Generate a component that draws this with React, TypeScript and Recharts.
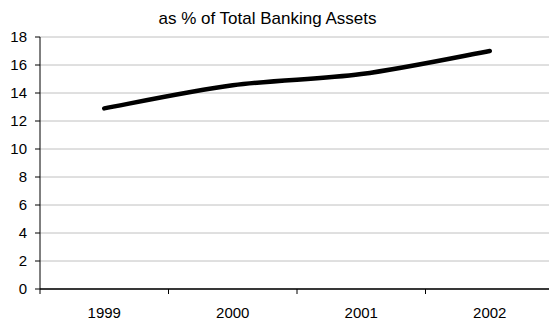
import React from 'react';
import { LineChart, Line, XAxis, YAxis, CartesianGrid } from 'recharts';

const categories = ['1999', '2000', '2001', '2002'];
const shareValues = [12.9, 14.55, 15.35, 17.0];
const yTicks = [0, 2, 4, 6, 8, 10, 12, 14, 16, 18];
const boundaryTicks = [0, 1, 2, 3, 4];
const titleText = 'as % of Total Banking Assets';

// pos: category centre on a 0..N slot scale (used only for the boundary tick marks axis)
const data = categories.map((year, i) => ({ year, value: shareValues[i], pos: i + 0.5 }));

const FONT = '"Liberation Sans", Arial, sans-serif';

// Catmull-Rom style smoothing (like a spreadsheet "smoothed line")
const smoothCurve: any = (context: any) => {
  let pts: number[][] = [];
  return {
    areaStart() {},
    areaEnd() {},
    lineStart() {
      pts = [];
    },
    point(x: number, y: number) {
      pts.push([+x, +y]);
    },
    lineEnd() {
      if (!pts.length) return;
      context.moveTo(pts[0][0], pts[0][1]);
      for (let i = 0; i < pts.length - 1; i++) {
        const p0 = pts[i - 1] || pts[i];
        const p1 = pts[i];
        const p2 = pts[i + 1];
        const p3 = pts[i + 2] || p2;
        context.bezierCurveTo(
          p1[0] + (p2[0] - p0[0]) / 6,
          p1[1] + (p2[1] - p0[1]) / 6,
          p2[0] - (p3[0] - p1[0]) / 6,
          p2[1] - (p3[1] - p1[1]) / 6,
          p2[0],
          p2[1]
        );
      }
    },
  };
};

export default function App() {
  return (
    <div style={{ position: 'absolute', left: 0, top: 0, width: 549, height: 325, overflow: 'hidden', background: '#fff' }}>
      <div
        style={{
          position: 'absolute',
          left: 0,
          top: 10,
          width: 535,
          textAlign: 'center',
          fontFamily: FONT,
          fontSize: 17,
          lineHeight: '17px',
          color: '#000',
        }}
      >
        {titleText}
      </div>
      <LineChart width={560} height={325} data={data} margin={{ top: 37, right: 6, bottom: 0, left: 0 }}>
        <CartesianGrid horizontal vertical={false} stroke="#c0c0c0" strokeWidth={1} />
        <XAxis
          xAxisId="bounds"
          dataKey="pos"
          type="number"
          domain={[0, 4]}
          ticks={boundaryTicks}
          tickFormatter={() => ''}
          height={1}
          axisLine={{ stroke: '#000', strokeWidth: 1.5 }}
          tickLine={{ stroke: '#000' }}
          tickSize={5}
          interval={0}
          allowDataOverflow
        />
        <XAxis
          xAxisId="cat"
          dataKey="year"
          type="category"
          scale="band"
          height={35}
          axisLine={false}
          tickLine={false}
          tickSize={0}
          tickMargin={17}
          tick={{ fill: '#000', fontSize: 15, fontFamily: FONT }}
          interval={0}
        />
        <YAxis
          domain={[0, 18]}
          ticks={yTicks}
          width={40}
          interval={0}
          axisLine={{ stroke: '#000' }}
          tickLine={{ stroke: '#000' }}
          tickSize={5}
          tickMargin={8}
          tick={{ fill: '#000', fontSize: 15, fontFamily: FONT }}
        />
        <Line
          xAxisId="cat"
          type={smoothCurve}
          dataKey="value"
          stroke="#000"
          strokeWidth={4.5}
          strokeLinecap="round"
          dot={false}
          isAnimationActive={false}
        />
      </LineChart>
    </div>
  );
}
